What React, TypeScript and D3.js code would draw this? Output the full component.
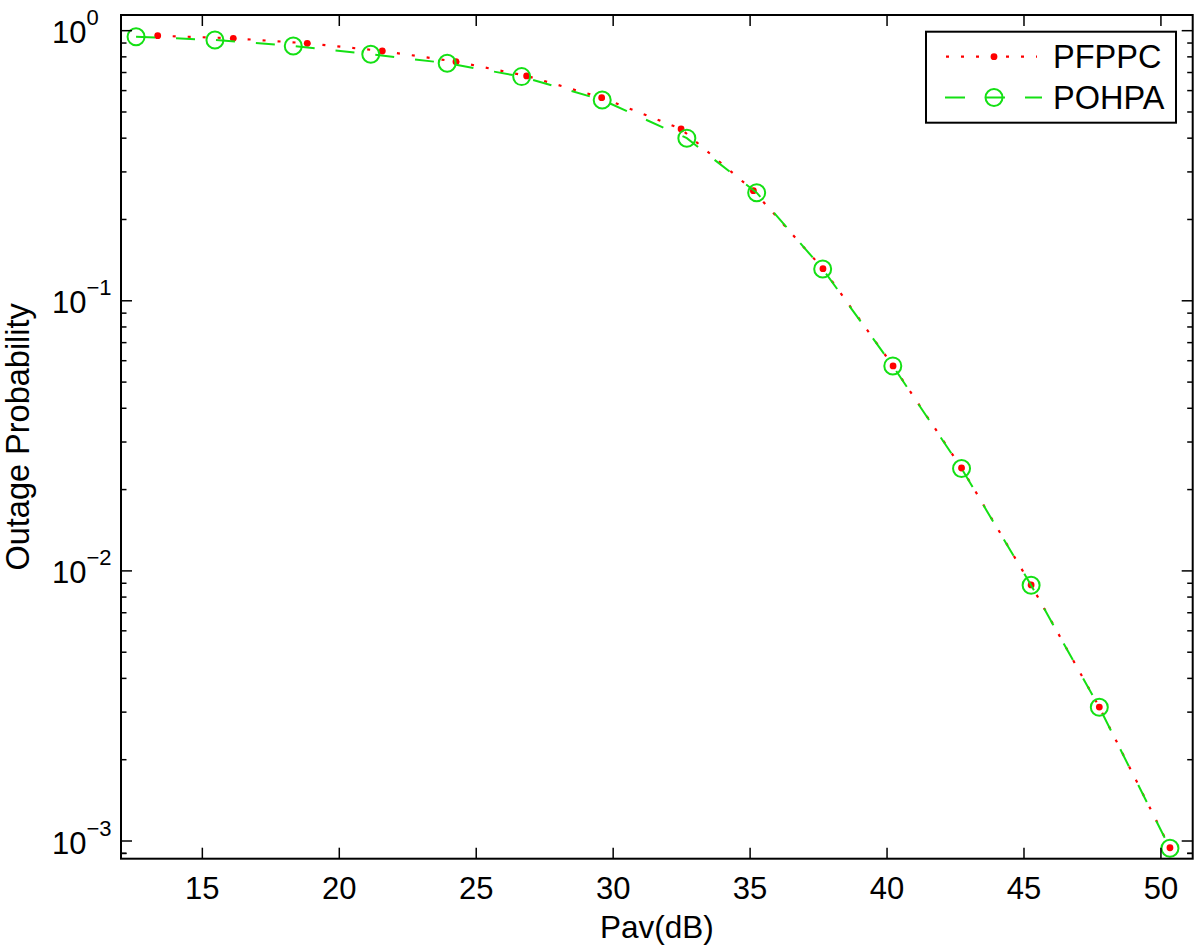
import React from "react";
import * as d3 from "d3";

const pfppcX = [13.37, 16.13, 18.83, 21.57, 24.26, 26.84, 29.58, 32.48, 35.12, 37.66, 40.22, 42.72, 45.26, 47.75, 50.33];
const pfppcY = [0.958, 0.937, 0.898, 0.841, 0.768, 0.68, 0.565, 0.4326, 0.2557, 0.1315, 0.0574, 0.02404, 0.00887, 0.003131, 0.000944];
const pohpaX = [12.58, 15.46, 18.32, 21.15, 23.94, 26.66, 29.6, 32.69, 35.24, 37.65, 40.21, 42.72, 45.26, 47.75, 50.33];
const pohpaY = [0.95, 0.924, 0.878, 0.818, 0.758, 0.676, 0.554, 0.4, 0.2513, 0.1311, 0.0574, 0.02394, 0.00885, 0.003126, 0.00094];
const xTicks = [15, 20, 25, 30, 35, 40, 45, 50];
const yExponents = [0, -1, -2, -3];
const seriesNames = ["PFPPC", "POHPA"];

const W = 1200;
const H = 948;
const L = 121;
const R = 1192.7;
const T = 15;
const B = 858.7;
const FONT = "'Liberation Sans', Arial, Helvetica, sans-serif";
const RED = "#ff0000";
const GREEN = "#14e014";

export default function App() {
  const x = d3.scaleLinear().domain([12.03, 51.16]).range([L, R]);
  const y = d3.scaleLog().domain([8.6e-4, 1.143]).range([B, T]);

  const red = pfppcX.map((v, i) => [v, pfppcY[i]] as [number, number]);
  const green = pohpaX.map((v, i) => [v, pohpaY[i]] as [number, number]);
  const line = d3.line<[number, number]>().x((d) => x(d[0])).y((d) => y(d[1]));

  const minor: number[] = [];
  yExponents.forEach((e) => {
    for (let k = 2; k <= 9; k++) {
      const v = k * Math.pow(10, e - 1);
      if (v >= 8.6e-4 && v <= 1.143) minor.push(v);
    }
  });
  minor.push(9e-4);

  const major = 11;
  const minorLen = 5.5;

  return (
    <svg width={W} height={H} style={{ position: "absolute", left: 0, top: 0, background: "#fff" }} fontFamily={FONT}>
      <rect x={0} y={0} width={W} height={H} fill="#fff" />
      {/* series */}
      <path d={line(red) || ""} fill="none" stroke={RED} strokeWidth={2.2} strokeDasharray="3 12" />
      {red.map((d, i) => (
        <circle key={"r" + i} cx={x(d[0])} cy={y(d[1])} r={3.4} fill={RED} />
      ))}
      <path d={line(green) || ""} fill="none" stroke={GREEN} strokeWidth={2} strokeDasharray="19 21" />
      {green.map((d, i) => (
        <circle key={"g" + i} cx={x(d[0])} cy={y(d[1])} r={8.5} fill="none" stroke={GREEN} strokeWidth={2} />
      ))}

      {/* frame */}
      <rect x={L} y={T} width={R - L} height={B - T} fill="none" stroke="#000" strokeWidth={2} />

      {/* x ticks */}
      {xTicks.map((t) => (
        <g key={"x" + t}>
          <line x1={x(t)} x2={x(t)} y1={B} y2={B - major} stroke="#000" strokeWidth={1.5} />
          <line x1={x(t)} x2={x(t)} y1={T} y2={T + major} stroke="#000" strokeWidth={1.5} />
          <text x={x(t)} y={898.5} fontSize={31} textAnchor="middle" fill="#000">
            {t}
          </text>
        </g>
      ))}

      {/* y ticks */}
      {yExponents.map((e) => {
        const v = Math.pow(10, e);
        const py = y(v);
        return (
          <g key={"y" + e}>
            <line x1={L} x2={L + major} y1={py} y2={py} stroke="#000" strokeWidth={1.5} />
            <line x1={R} x2={R - major} y1={py} y2={py} stroke="#000" strokeWidth={1.5} />
            <text x={52} y={py + 12.5} fontSize={31} fill="#000">
              10
              <tspan fontSize={22} dy={-18}>
                {e === 0 ? "0" : "\u2212" + Math.abs(e)}
              </tspan>
            </text>
          </g>
        );
      })}
      {minor.map((v, i) => (
        <g key={"m" + i}>
          <line x1={L} x2={L + minorLen} y1={y(v)} y2={y(v)} stroke="#000" strokeWidth={1.5} />
          <line x1={R} x2={R - minorLen} y1={y(v)} y2={y(v)} stroke="#000" strokeWidth={1.5} />
        </g>
      ))}

      {/* axis labels */}
      <text x={(L + R) / 2} y={938} fontSize={31.5} textAnchor="middle" fill="#000">
        Pav(dB)
      </text>
      <text
        transform={`translate(29, ${(T + B) / 2}) rotate(-90)`}
        fontSize={32.5}
        textAnchor="middle"
        fill="#000"
      >
        Outage Probability
      </text>

      {/* legend */}
      <rect x={926} y={31.7} width={250} height={91} fill="#fff" stroke="#000" strokeWidth={2} />
      <line x1={946} x2={1037} y1={56.7} y2={56.7} stroke={RED} strokeWidth={2.2} strokeDasharray="3 12" />
      <circle cx={994} cy={56.7} r={3.4} fill={RED} />
      <text x={1053} y={67.5} fontSize={32.5} fill="#000">
        {seriesNames[0]}
      </text>
      <line x1={945} x2={1042} y1={97.5} y2={97.5} stroke={GREEN} strokeWidth={2} strokeDasharray="20 20" />
      <circle cx={994} cy={97.5} r={8.5} fill="none" stroke={GREEN} strokeWidth={2} />
      <text x={1053} y={109} fontSize={32.5} fill="#000">
        {seriesNames[1]}
      </text>
    </svg>
  );
}
